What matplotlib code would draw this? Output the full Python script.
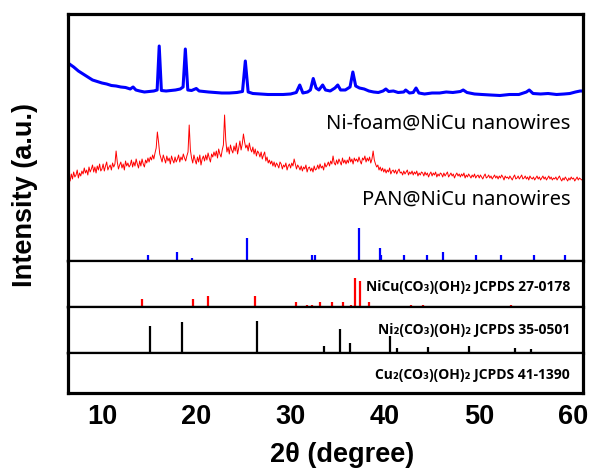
import matplotlib
matplotlib.use("Agg")
import matplotlib.pyplot as plt
import numpy as np

# ---- data ----
# Ni-foam@NiCu nanowires (blue), 2theta vs intensity (a.u.)
blue_tt = [6.4, 6.7, 7.0, 7.5, 8.0, 8.5, 9.0, 9.5, 10.0, 10.5, 11.0, 11.5, 12.0, 12.5,
           13.0, 13.3, 13.6, 14.0, 14.5, 15.0, 15.5, 15.85, 16.07, 16.3, 16.8, 17.3,
           17.8, 18.3, 18.6, 18.84, 19.1, 19.5, 20.0, 20.3, 20.8, 21.3, 22.0, 22.7,
           23.5, 24.3, 24.9, 25.2, 25.5, 26.0, 26.8, 27.6, 28.4, 29.2, 30.0, 30.6,
           30.97, 31.3, 31.8, 32.1, 32.4, 32.7, 33.0, 33.4, 33.7, 34.2, 34.7, 35.0,
           35.3, 35.8, 36.3, 36.6, 36.9, 37.3, 37.8, 38.3, 38.8, 39.3, 39.8, 40.1,
           40.4, 40.9, 41.4, 42.0, 42.2, 42.6, 43.0, 43.3, 43.6, 44.2, 45.0, 45.8,
           46.5, 47.2, 48.0, 48.3, 48.7, 49.5, 50.3, 51.2, 52.2, 53.2, 54.2, 55.0,
           55.3, 55.7, 56.5, 57.3, 58.2, 59.0, 59.6, 60.2, 60.7, 61.0]
blue_int = [37, 35, 33, 29, 26, 23, 20, 18.5, 17, 16, 14.5, 14, 13, 12.5,
            11, 13, 10, 9, 8, 8.5, 9, 10, 54, 9.5, 9, 9.5,
            10, 11, 13, 51, 10, 9.5, 11.5, 9, 8.5, 8, 7.5, 7,
            7, 7.5, 8.5, 39, 8, 6.5, 6, 5.5, 5.5, 5.5, 6, 7.5,
            15, 7, 8, 10, 21.5, 12, 10, 15, 10, 9, 12, 15,
            10, 10, 13, 28, 14, 12, 11, 9, 8, 7.5, 9, 11,
            8.5, 9, 7.5, 8, 10, 7, 7.5, 12, 7, 6, 7, 7,
            8, 7.5, 8.5, 10, 7.5, 6, 5.5, 5, 4.5, 5.5, 5.5, 8,
            10, 6.5, 6, 6.5, 5.5, 6, 6.5, 8, 9, 9]

# PAN@NiCu nanowires (red), sampled every 0.125 deg from 6.5 to 61
red_tt = np.arange(6.5, 61.001, 0.125)
red_int = [24, 19, 26, 21,
           28, 23, 25, 30, 22, 27, 24, 29,   # 7
           26, 32, 27, 30, 25, 33, 28, 31,   # 8
           35, 28, 33, 27, 34, 30, 36, 29,   # 9
           31, 36, 29, 34, 38, 30, 33, 35,   # 10
           30, 37, 33, 36, 49, 38, 31, 35,   # 11
           38, 32, 36, 30, 39, 34, 37, 33,   # 12
           35, 40, 33, 38, 34, 41, 36, 32,   # 13
           39, 34, 41, 36, 33, 40, 37, 42,   # 14
           38, 43, 40, 45, 41, 47, 52, 68,   # 15
           58, 46, 42, 38, 45, 41, 37, 44,   # 16
           39, 42, 36, 44, 40, 37, 43, 38,   # 17
           41, 45, 38, 43, 40, 46, 42, 39,   # 18
           44, 48, 75, 50, 42, 37, 45, 40,   # 19
           36, 43, 38, 45, 35, 41, 44, 39,   # 20
           45, 40, 47, 42, 38, 46, 43, 48,   # 21
           44, 49, 42, 51, 46, 43, 50, 55,   # 22
           85, 60, 48, 53, 46, 55, 50, 47,   # 23
           54, 49, 57, 46, 52, 59, 50, 56,   # 24
           66, 58, 52, 55, 49, 57, 51, 48,   # 25
           53, 46, 51, 44, 49, 47, 43, 48,   # 26
           41, 45, 48, 39, 43, 37, 40, 36,   # 27
           39, 34, 38, 33, 37, 35, 32, 38,   # 28
           36, 31, 35, 33, 37, 30, 34, 36,   # 29
           32, 37, 34, 41, 36, 31, 35, 33,   # 30
           30, 34, 29, 33, 31, 35, 28, 32,   # 31
           33, 29, 32, 28, 34, 30, 31, 35,   # 32
           31, 36, 32, 34, 30, 37, 33, 35,   # 33
           38, 34, 39, 36, 44, 37, 35, 40,   # 34
           36, 41, 38, 35, 42, 37, 40, 36,   # 35
           40, 37, 43, 38, 41, 36, 42, 39,   # 36
           41, 38, 43, 39, 36, 42, 40, 44,   # 37
           38, 42, 39, 43, 37, 41, 49, 40,   # 38
           36, 33, 35, 30, 33, 29, 32, 28,   # 39
           31, 27, 30, 28, 32, 26, 29, 30,   # 40
           27, 30, 26, 29, 31, 27, 28, 25,   # 41
           29, 26, 28, 30, 25, 28, 26, 29,   # 42
           25, 28, 26, 29, 24, 27, 25, 28,   # 43
           27, 24, 28, 25, 27, 23, 26, 28,   # 44
           24, 27, 25, 28, 23, 26, 24, 27,   # 45
           26, 23, 27, 24, 26, 28, 23, 25,   # 46
           27, 24, 26, 22, 25, 27, 24, 26,   # 47
           23, 26, 24, 27, 22, 25, 23, 26,   # 48
           24, 22, 25, 23, 26, 22, 24, 25,   # 49
           22, 25, 23, 21, 24, 26, 22, 23,   # 50
           25, 22, 24, 21, 23, 25, 22, 24,   # 51
           21, 24, 22, 25, 23, 20, 24, 22,   # 52
           23, 21, 24, 22, 20, 23, 25, 21,   # 53
           22, 24, 21, 23, 25, 21, 22, 24,   # 54
           21, 23, 20, 24, 22, 21, 23, 20,   # 55
           22, 24, 21, 23, 20, 22, 24, 21,   # 56
           23, 20, 22, 24, 21, 23, 20, 22,   # 57
           21, 23, 20, 22, 24, 21, 19, 22,   # 58
           20, 23, 21, 19, 22, 20, 23, 21,   # 59
           22, 19, 21, 23, 20, 22, 21, 20,   # 60
           21]

# reference patterns: positions (2theta) and relative intensities
blue_ref_tt = [14.84, 17.94, 19.5, 25.36, 32.25, 32.56, 37.22, 39.45, 39.58,
               42.07, 44.46, 46.16, 49.69, 52.3, 55.8, 59.1]
blue_ref_I = [19, 28, 9, 70, 19, 19, 100, 40, 19, 19, 19, 28, 19, 19, 19, 19]

red_ref_tt = [14.24, 16.78, 19.67, 21.2, 26.21, 30.62, 31.75, 32.28, 33.15, 34.4,
              35.53, 36.38, 36.8, 37.4, 38.36, 42.73, 44.06, 46.92, 51.1, 53.33, 54.07]
red_ref_I = [29, 3, 29, 38, 38, 18, 7, 7, 18, 18, 18, 7, 100, 90, 18, 7, 7, 3, 3, 7, 3]

black_ref_tt = [15.12, 18.5, 26.45, 33.57, 35.21, 36.3, 40.58, 41.25, 44.53,
                48.9, 53.75, 55.48]
black_ref_I = [84, 97, 100, 22, 74, 30, 53, 16, 19, 22, 16, 12]

xticks = [10, 20, 30, 40, 50, 60]
labels_top = ["Ni-foam@NiCu nanowires", "PAN@NiCu nanowires"]
ref_labels = ["NiCu(CO₃)(OH)₂ JCPDS 27-0178",
              "Ni₂(CO₃)(OH)₂ JCPDS 35-0501",
              "Cu₂(CO₃)(OH)₂ JCPDS 41-1390"]

XLIM = (6.4, 61.0)
BOLD = "Liberation Sans"
LABEL_FONT = ["Noto Sans", "DejaVu Sans"]
REF_FONT = ["Open Sans", "DejaVu Sans"]

fig = plt.figure(figsize=(5.92, 4.71), dpi=100)
W, H = 592, 471
left, width = 68 / W, 515 / W


def panel(top_px, bot_px):
    ax = fig.add_axes([left, (H - bot_px) / H, width, (bot_px - top_px) / H])
    ax.set_xlim(*XLIM)
    ax.set_xticks([])
    ax.set_yticks([])
    for s in ax.spines.values():
        s.set_linewidth(1.6)
    return ax


ax_top = panel(14, 261)
ax_red = panel(261, 307)
ax_blk = panel(307, 353)
ax_cu = panel(353, 393)

# outer frame thicker
ax_top.spines["top"].set_linewidth(2.3)
for a in (ax_top, ax_red, ax_blk, ax_cu):
    a.spines["left"].set_linewidth(2.3)
    a.spines["right"].set_linewidth(2.3)
ax_cu.spines["bottom"].set_linewidth(2.3)

# top panel: measured patterns + blue reference sticks
ax_top.set_ylim(0, 247)
ax_top.plot(blue_tt, np.array(blue_int) + 161, color="#0000ff", lw=2.2)
ax_top.plot(red_tt, np.array(red_int) + 61, color="#ff0000", lw=0.7)
ax_top.vlines(blue_ref_tt, 0, np.array(blue_ref_I) * 0.33, color="#0000ff", lw=1.6)
ax_top.text(0.975, 0.557, labels_top[0], transform=ax_top.transAxes, ha="right",
            va="center", fontsize=14.5, family=LABEL_FONT)
ax_top.text(0.975, 0.247, labels_top[1], transform=ax_top.transAxes, ha="right",
            va="center", fontsize=14.5, family=LABEL_FONT)

ax_red.set_ylim(0, 158.6)
ax_red.vlines(red_ref_tt, 0, red_ref_I, color="#ff0000", lw=1.6)
ax_red.text(0.975, 0.44, ref_labels[0], transform=ax_red.transAxes, ha="right",
            va="center", fontsize=10, fontweight="bold", family=REF_FONT)

ax_blk.set_ylim(0, 143.75)
ax_blk.hlines(0.8, 12.75, XLIM[1], color="black", lw=1.0)
ax_blk.vlines(black_ref_tt, 0, black_ref_I, color="black", lw=1.6)
ax_blk.text(0.975, 0.5, ref_labels[1], transform=ax_blk.transAxes, ha="right",
            va="center", fontsize=10, fontweight="bold", family=REF_FONT)

ax_cu.set_ylim(0, 1)
ax_cu.text(0.975, 0.46, ref_labels[2], transform=ax_cu.transAxes, ha="right",
           va="center", fontsize=10, fontweight="bold", family=REF_FONT)

ax_cu.set_xticks(xticks)
ax_cu.set_xticklabels([str(t) for t in xticks], fontsize=19.5, fontweight="bold",
                      family=BOLD)
ax_cu.tick_params(axis="x", length=0, pad=8)

fig.text(342 / W, 1 - 455 / H, "2θ (degree)", ha="center", va="center",
         fontsize=19.5, fontweight="bold", family=BOLD)
fig.text(25 / W, 1 - 195 / H, "Intensity (a.u.)", ha="center", va="center",
         rotation=90, fontsize=19.5, fontweight="bold", family=BOLD)

fig.savefig("out.png", dpi=100)
